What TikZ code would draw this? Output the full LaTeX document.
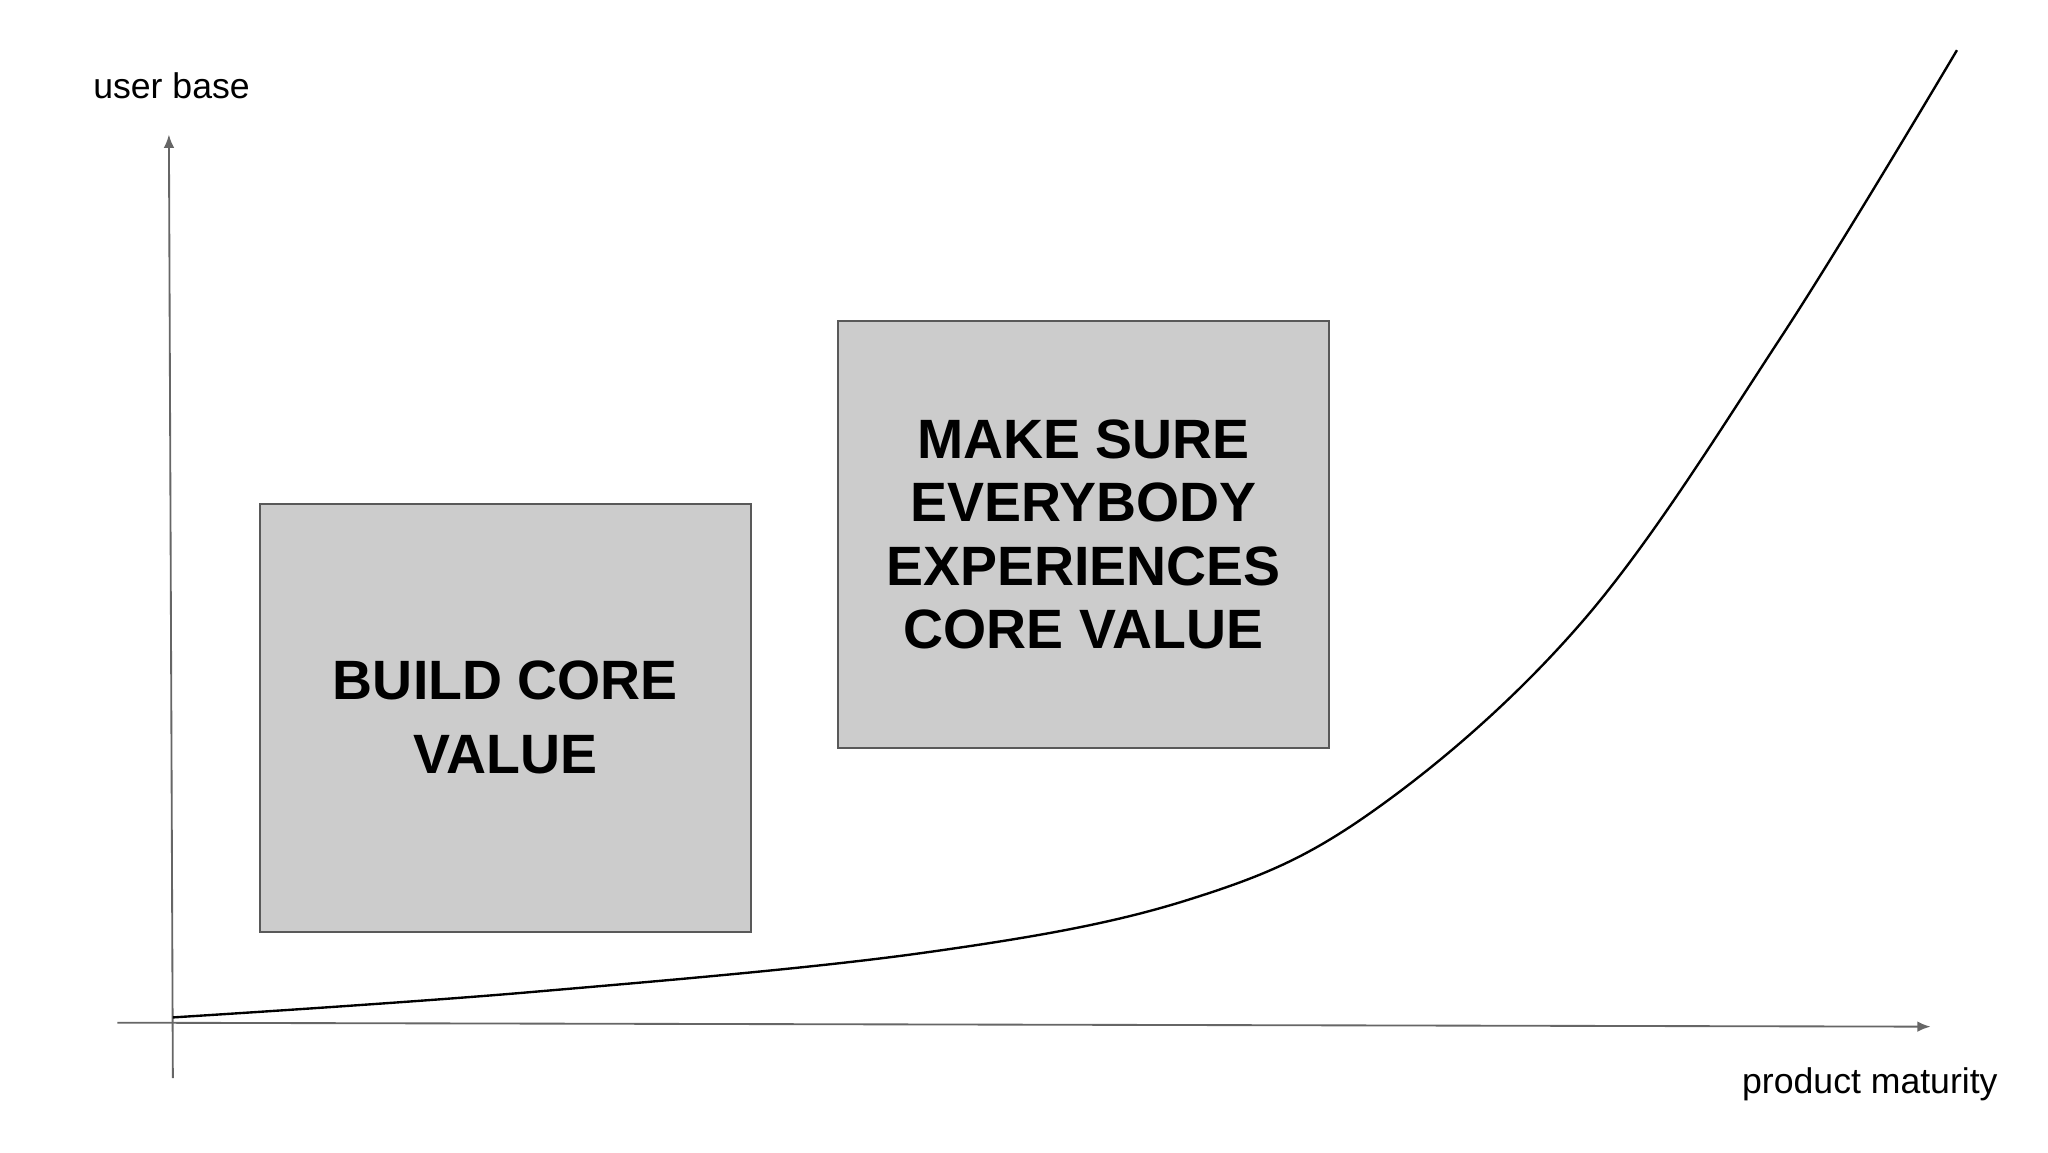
\documentclass[tikz,border=0pt]{standalone}
\usepackage{fontspec}
\setmainfont{Liberation Sans}
\usetikzlibrary{arrows.meta}
\begin{document}
\begin{tikzpicture}[x=0.5pt,y=-0.5pt,
  axis/.style={draw=black!60,line width=0.7pt,-{Latex[length=5pt,width=4pt]}},
  valbox/.style={draw=black!65,fill=black!20,line width=0.7pt,align=center,font=\fontsize{21}{24}\selectfont\bfseries},
  lbl/.style={font=\fontsize{13.5}{16}\selectfont}]
\useasboundingbox (0,0) rectangle (1552,873);
\coordinate (ys) at (131,817); \coordinate (ye) at (128,102);
\coordinate (xs) at (89,775); \coordinate (xe) at (1463,778);
\draw[axis] (ys) -- (ye);
\draw[axis] (xs) -- (xe);
\node[lbl] (yl) at (130,65) {user base};
\node[lbl] (xl) at (1417,822) {product maturity};
\node[valbox,minimum width=186pt,minimum height=162pt] (b1) at (383,544) {BUILD CORE\\[4pt]VALUE};
\node[valbox,minimum width=186pt,minimum height=162pt] (b2) at (821,405) {MAKE SURE\\EVERYBODY\\EXPERIENCES\\CORE VALUE};
\draw[line width=0.9pt] plot[smooth,tension=0.6] coordinates {(131,771) (400,752) (700,722) (900,682) (1040,615) (1200,470) (1350,255) (1483,38)};
\end{tikzpicture}
\end{document}
